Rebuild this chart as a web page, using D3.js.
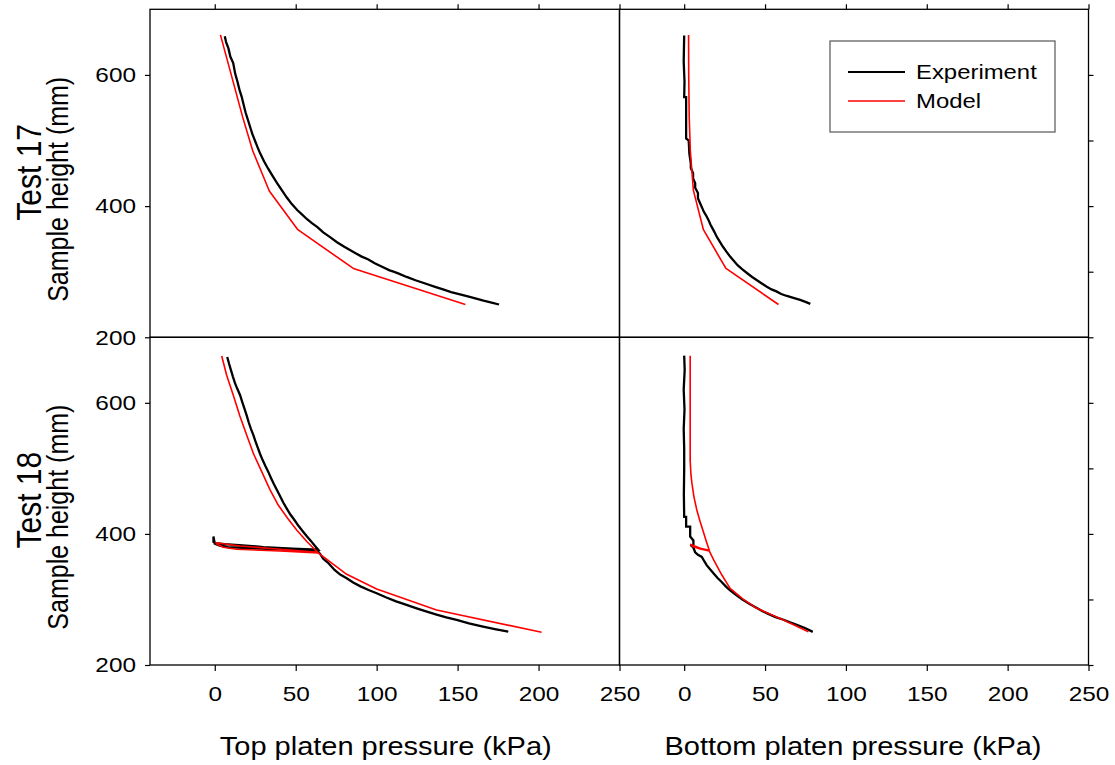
<!DOCTYPE html>
<html>
<head>
<meta charset="utf-8">
<script src="https://cdn.jsdelivr.net/npm/d3@7"></script>
<style>
  html, body { margin: 0; padding: 0; background: #fff; }
  svg { display: block; font-family: "Liberation Sans", Arial, sans-serif; }
</style>
</head>
<body>
<svg id="chart" width="1115" height="765"></svg>
<script>
// Axis ticks
const heightTicks = [200, 400, 600];
const heightMinorTicks = [200, 300, 400, 500, 600];
const pressureTicks = [0, 50, 100, 150, 200, 250];

// Test 17, top platen: [pressure kPa, sample height mm]
const t17TopExperiment = [[6.2,659],[7,650],[8.5,640],[9.6,628],[11.4,618],[12.6,602],[14,590],[15.2,578],
  [16.6,567],[17.8,555],[19,543],[20.4,532],[21.8,521],[23.2,510],[24.8,500],[26.4,490],[28.1,480],[30.5,468],
  [33,457],[35.7,446],[38.5,435],[41.5,424],[44.5,413],[47.6,403],[50.9,394],[54,387],[57,380],[60,374],
  [63.4,368],[67,360],[71,353],[75.5,345],[80,338],[83.5,333],[87,328],[90.8,323],[94.6,319],[98.8,313],
  [103,308],[108,302],[110,300.5],[113.3,297.5],[118.5,292],[124,287],[130,282],[136.1,277],[141,273],
  [146,269],[151.5,265.5],[156.9,262],[161.5,259],[166,256],[171,253],[175.6,250]];
const t17TopModel = [[3.5,661],[10.2,600],[17.2,536],[23.5,484],[33.7,423],[51.3,364],[85.6,305],[154.8,250]];

// Test 17, bottom platen
const t17BottomExperiment = [[0,660],[-0.3,620],[0.2,590],[0,566],[1.2,566],[1.2,503],[2.8,500],[3.2,480],
  [4.1,465],[4.1,458],[5.5,450],[5.5,442],[6.8,435],[6.8,428],[8.5,420],[8.5,412],[9.9,404],[11,398],[12,392],
  [13.5,386],[15,379],[16.2,372],[17.5,366],[18.8,360],[20.2,353],[22,346],[24,338],[26,331],[28.4,323],
  [30.5,317],[33,310],[35.8,304],[38.8,298],[42,292],[45,287],[48,282],[51.1,277],[54,273],[57,270],[60,266],
  [63.5,263],[67.5,260],[71.7,257],[75,254],[78,251]];
const t17BottomModel = [[2.7,661],[2.8,600],[3.1,536],[3.8,484],[5.7,424],[11.9,364],[25.8,305],[58.3,250]];

// Test 18, top platen (load, unload, reload, load)
const t18TopExperiment = [[7.7,670],[8.8,660],[10,650],[11.2,640],[12.5,630],[14,621],[15.6,612],[17,601],
  [18.5,590],[19.8,580],[21,570],[22.4,560],[23.8,551],[25.2,541],[26.5,532],[28,522],[29.5,513],[31.2,504],
  [33,495],[34.8,485],[36.5,476],[38.4,467],[40.3,458],[42.3,448],[44.4,439],[46.6,430],[49,422],[51.8,412],
  [54.7,403],[57,396],[59.5,389],[61.8,382],[63.9,376],
  [48,377.5],[30,380],[15,383],[6,384.5],[0.5,386],[-0.8,388],[-0.8,396],[-0.5,392],[0,385],[3,382],
  [8,380],[20,378.5],[40,376.5],[56,374.5],[63.9,373],[65.5,368],[67,362],[70,356],[74,345],[77.5,338],
  [81.5,332.3],[85.5,326],[90,320],[95,314.5],[100,309.4],[106,303],[112,297],[118,292],[124.7,286.5],
  [131,281.5],[137,277],[143,272.8],[149.4,268.7],[157,263.5],[165,259],[173,254.8],[181.3,250.8]];
const t18TopModel = [[4.3,671.5],[7.3,642.5],[11.4,612],[15.5,580],[19.7,551],[24,522],[29,495],[34,468],
  [39.2,444],[45,424],[50.6,406],[57,388],[63.5,372],[40.3,376.5],[15.6,381.6],[0.7,386.6],[1.5,384.2],
  [5.3,379.6],[13.5,376.5],[40.3,374],[63.9,371],[81.5,338.4],[100,316],[137,284],[201.9,249.9]];

// Test 18, bottom platen
const t18BottomExperiment = [[0,672],[0.3,650],[-0.3,620],[0.2,590],[-0.3,560],[0,530],[0,500],[-0.2,460],
  [0,426],[1.2,426],[1.2,411],[3.7,411],[3.7,396],[5.7,390],[5.7,384],[4.5,382],[5.5,380],[6.8,372],
  [8.5,368],[10.9,365],[12.5,358],[14,352],[16,346],[18.1,340],[20.5,333],[23,327],[25.7,320],[28.4,314],
  [32,307],[36,300],[40.5,293],[44.9,287],[48.5,282],[52,278],[56.5,273],[61.4,269],[65.5,265],[70,261],
  [75,256],[79.5,250.5]];
const t18BottomModel = [[3.7,672],[3.7,600],[3.7,512],[4.2,490],[4.8,477],[6,457],[7.8,436.5],[9.6,421],
  [11.5,406],[13.5,390],[15.5,375],[10,378],[4.1,384],[5,381],[10,377],[15.5,374],[18.3,360],[23.3,337.3],
  [28.4,317],[36.6,300.2],[44.9,286.5],[61.4,268.7],[76.8,250.8]];

const rowLabels = ["Test 17", "Test 18"];
const yTitle = "Sample height (mm)";
const xTitles = ["Top platen pressure (kPa)", "Bottom platen pressure (kPa)"];
const legendLabels = ["Experiment", "Model"];

const svg = d3.select("#chart");
const pressureDomain = [-40, 250];
const heightDomain = [200, 700];
// glyphs are drawn slightly wide
const stretch = 1.16;

const xScales = [
  d3.scaleLinear().domain(pressureDomain).range([150, 619.5]),
  d3.scaleLinear().domain(pressureDomain).range([619.5, 1088.5])
];
const yScales = [
  d3.scaleLinear().domain(heightDomain).range([337.3, 9.3]),
  d3.scaleLinear().domain(heightDomain).range([665, 337.3])
];

const panels = [
  { row: 0, col: 0, exp: t17TopExperiment, model: t17TopModel },
  { row: 0, col: 1, exp: t17BottomExperiment, model: t17BottomModel },
  { row: 1, col: 0, exp: t18TopExperiment, model: t18TopModel },
  { row: 1, col: 1, exp: t18BottomExperiment, model: t18BottomModel }
];

const styleAxis = g => {
  g.selectAll(".domain").remove();
  g.selectAll(".tick line").attr("stroke", "#000").attr("stroke-width", 1.2);
  g.selectAll(".tick text").attr("fill", "#000").style("font-size", "21px")
    .style("font-family", "'Liberation Sans', Arial, sans-serif");
};

const clip = svg.append("defs");
panels.forEach((p, i) => {
  const x = xScales[p.col], y = yScales[p.row];
  clip.append("clipPath").attr("id", "clip" + i).append("rect")
    .attr("x", x.range()[0]).attr("y", y.range()[1])
    .attr("width", x.range()[1] - x.range()[0]).attr("height", y.range()[0] - y.range()[1]);
});

// Axes
panels.forEach(p => {
  const x = xScales[p.col], y = yScales[p.row];
  const x0 = x.range()[0], x1 = x.range()[1];
  const yb = y.range()[0], yt = y.range()[1];
  if (p.col === 0) {
    svg.append("g").attr("transform", `translate(${x0},0)`)
      .call(d3.axisLeft(y).tickValues(heightTicks).tickSize(5).tickPadding(9).tickFormat(d3.format("d")))
      .call(styleAxis)
      .call(g => g.selectAll(".tick text").attr("x", -14 / stretch).attr("transform", `scale(${stretch},1)`));
  } else {
    svg.append("g").attr("transform", `translate(${x1},0)`)
      .call(d3.axisRight(y).tickValues(heightMinorTicks).tickSize(5).tickFormat(""))
      .call(styleAxis);
  }
  if (p.row === 0) {
    svg.append("g").attr("transform", `translate(0,${yt})`)
      .call(d3.axisTop(x).tickValues(pressureTicks).tickSize(5).tickFormat(""))
      .call(styleAxis);
  } else {
    svg.append("g").attr("transform", `translate(0,${yb})`)
      .call(d3.axisBottom(x).tickValues(pressureTicks).tickSize(6).tickPadding(15).tickFormat(d3.format("d")))
      .call(styleAxis)
      .call(g => g.selectAll(".tick text").attr("transform", `scale(${stretch},1)`));
  }
});

// Lines
const line = (x, y) => d3.line().x(d => x(d[0])).y(d => y(d[1])).curve(d3.curveLinear);
panels.forEach((p, i) => {
  const x = xScales[p.col], y = yScales[p.row];
  const g = svg.append("g").attr("clip-path", `url(#clip${i})`);
  g.append("path").datum(p.exp).attr("d", line(x, y)).attr("fill", "none")
    .attr("stroke", "#000").attr("stroke-width", 2.3).attr("stroke-linejoin", "miter");
  g.append("path").datum(p.model).attr("d", line(x, y)).attr("fill", "none")
    .attr("stroke", "#ff0000").attr("stroke-width", 1.6).attr("stroke-linejoin", "round");
});

// Panel frames
panels.forEach(p => {
  const x = xScales[p.col], y = yScales[p.row];
  svg.append("rect")
    .attr("x", x.range()[0]).attr("y", y.range()[1])
    .attr("width", x.range()[1] - x.range()[0]).attr("height", y.range()[0] - y.range()[1])
    .attr("fill", "none").attr("stroke", "#000").attr("stroke-width", 1.3);
});

// Row titles
rowLabels.forEach((label, r) => {
  const y = yScales[r];
  const cy = (y.range()[0] + y.range()[1]) / 2;
  svg.append("text").attr("transform", `translate(29,${cy - 1}) scale(${stretch},1) rotate(-90)`)
    .attr("text-anchor", "middle").attr("dominant-baseline", "central")
    .style("font-size", "30px").text(label);
  svg.append("text").attr("transform", `translate(58,${cy + 16}) scale(${stretch},1) rotate(-90)`)
    .attr("text-anchor", "middle").attr("dominant-baseline", "central")
    .style("font-size", "25px").text(yTitle);
});

// Column titles
xTitles.forEach((t, c) => {
  const x = xScales[c];
  const cx = (x.range()[0] + x.range()[1]) / 2 + (c === 0 ? 1 : -1);
  svg.append("text").attr("transform", `translate(${cx},746) scale(${stretch},1)`)
    .attr("text-anchor", "middle").attr("dominant-baseline", "central")
    .style("font-size", "25px").text(t);
});

// Legend
const legend = svg.append("g").attr("transform", "translate(830,41)");
legend.append("rect").attr("width", 225).attr("height", 91)
  .attr("fill", "#fff").attr("stroke", "#555").attr("stroke-width", 1.2);
const legendColors = ["#000", "#ff0000"];
legendLabels.forEach((lab, i) => {
  const ly = 31 + i * 29;
  legend.append("line").attr("x1", 18).attr("x2", 75).attr("y1", ly).attr("y2", ly)
    .attr("stroke", legendColors[i]).attr("stroke-width", i === 0 ? 2 : 1.6);
  legend.append("text").attr("transform", `translate(86,${ly}) scale(${stretch},1)`)
    .attr("dominant-baseline", "central")
    .style("font-size", "20.6px").text(lab);
});
</script>
</body>
</html>
